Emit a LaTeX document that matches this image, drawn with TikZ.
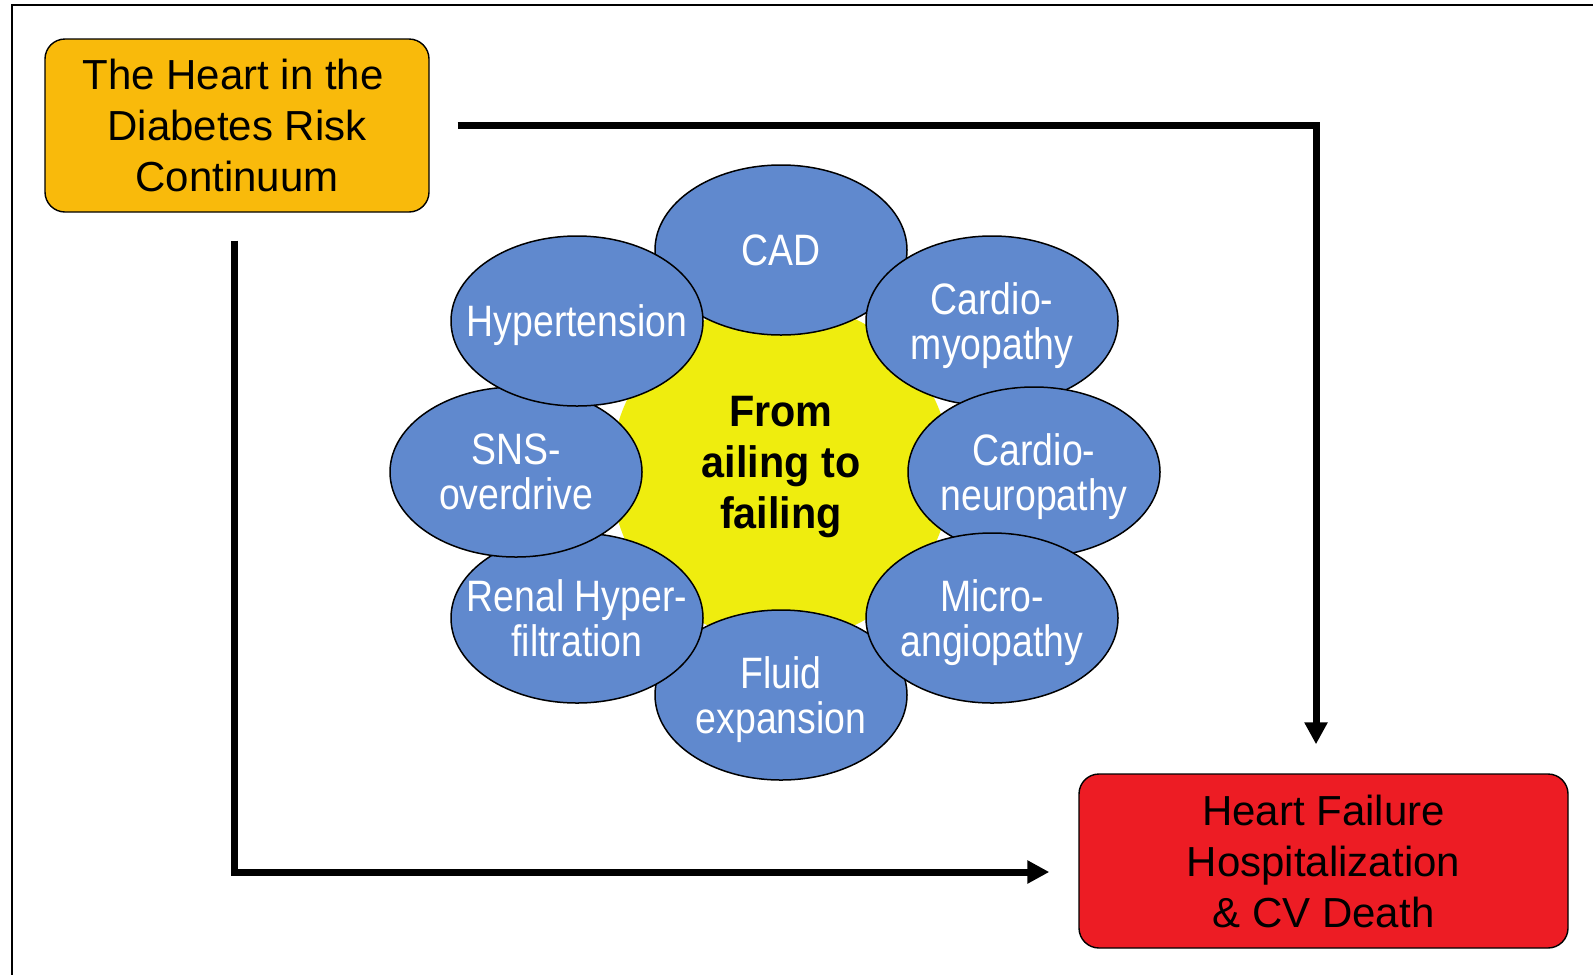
\documentclass[tikz,border=0pt]{standalone}
\usepackage{fontspec}
\setmainfont{Liberation Sans}
\newfontfamily\narrowfont{Liberation Sans}[FakeStretch=0.85]
\newfontfamily\corefont{Liberation Sans}[FakeStretch=0.94]
\usetikzlibrary{arrows.meta,positioning,shapes.geometric}
\definecolor{riskorange}{RGB}{249,186,11}
\definecolor{outcomered}{RGB}{237,28,36}
\definecolor{petalblue}{RGB}{96,137,206}
\definecolor{coreyellow}{RGB}{239,237,14}

\begin{document}
\begin{tikzpicture}[x=0.5pt, y=-0.5pt,
  box/.style={draw=black, line width=0.7pt, rounded corners=10pt, minimum width=192pt, minimum height=86.5pt, align=center, font=\fontsize{21}{25.5}\selectfont},
  petal/.style={ellipse, draw=black, line width=0.75pt, fill=petalblue, minimum width=126pt, minimum height=85pt, inner sep=0pt},
  petaltext/.style={align=center, text=white, inner sep=0pt, text depth=0pt, font=\narrowfont\fontsize{22}{22.5}\selectfont},
  flow/.style={line width=3.5pt, -{Triangle[length=11pt,width=11pt]}, shorten <=14pt, shorten >=14.5pt}]
  \useasboundingbox (0,0) rectangle (1593,975);
  % frame
  \draw[line width=1.25pt] (1593,5) -- (12,5) -- (12,975);
  % start and outcome
  \node[box, fill=riskorange] (heart) at (237,125.5) {\hspace*{-4pt}The Heart in the\\Diabetes Risk\\Continuum};
  \node[box, fill=outcomered, minimum width=244.5pt, minimum height=87pt] (hf) at (1323.5,861) {Heart Failure\\Hospitalization\\\& CV Death};
  % yellow core
  \fill[coreyellow] (781,472) circle[radius=85pt];
  % petals
  \node[petal, label={[petaltext]center:CAD}] (cad) at (781,250) {};
  \node[petal, label={[petaltext]center:Fluid\\expansion}] (fluid) at (781,695) {};
  \node[petal, label={[petaltext]center:Renal Hyper-\\filtration}] (renal) at (577,618) {};
  \node[petal, label={[petaltext]center:SNS-\\overdrive}] (sns) at (516,472) {};
  \node[petal, label={[petaltext]center:Hypertension}] (hyp) at (577,321) {};
  \node[petal, label={[petaltext]center:Cardio-\\myopathy}] (cmyo) at (992,321) {};
  \node[petal, label={[petaltext]center:Cardio-\\neuropathy}] (cneuro) at (1034,472) {};
  \node[petal, label={[petaltext]center:Micro-\\angiopathy}] (micro) at (992,618) {};
  \node[align=center, font=\corefont\bfseries\fontsize{22}{25.5}\selectfont] (core) at (781,467) {From\\ailing to\\failing};
  % paths to the outcome
  \draw[flow] (heart.east) -| ([xshift=-3.75pt]hf.north);
  \draw[flow] ([xshift=-1.5pt]heart.south) |- ([yshift=-5.5pt]hf.west);
\end{tikzpicture}
\end{document}
